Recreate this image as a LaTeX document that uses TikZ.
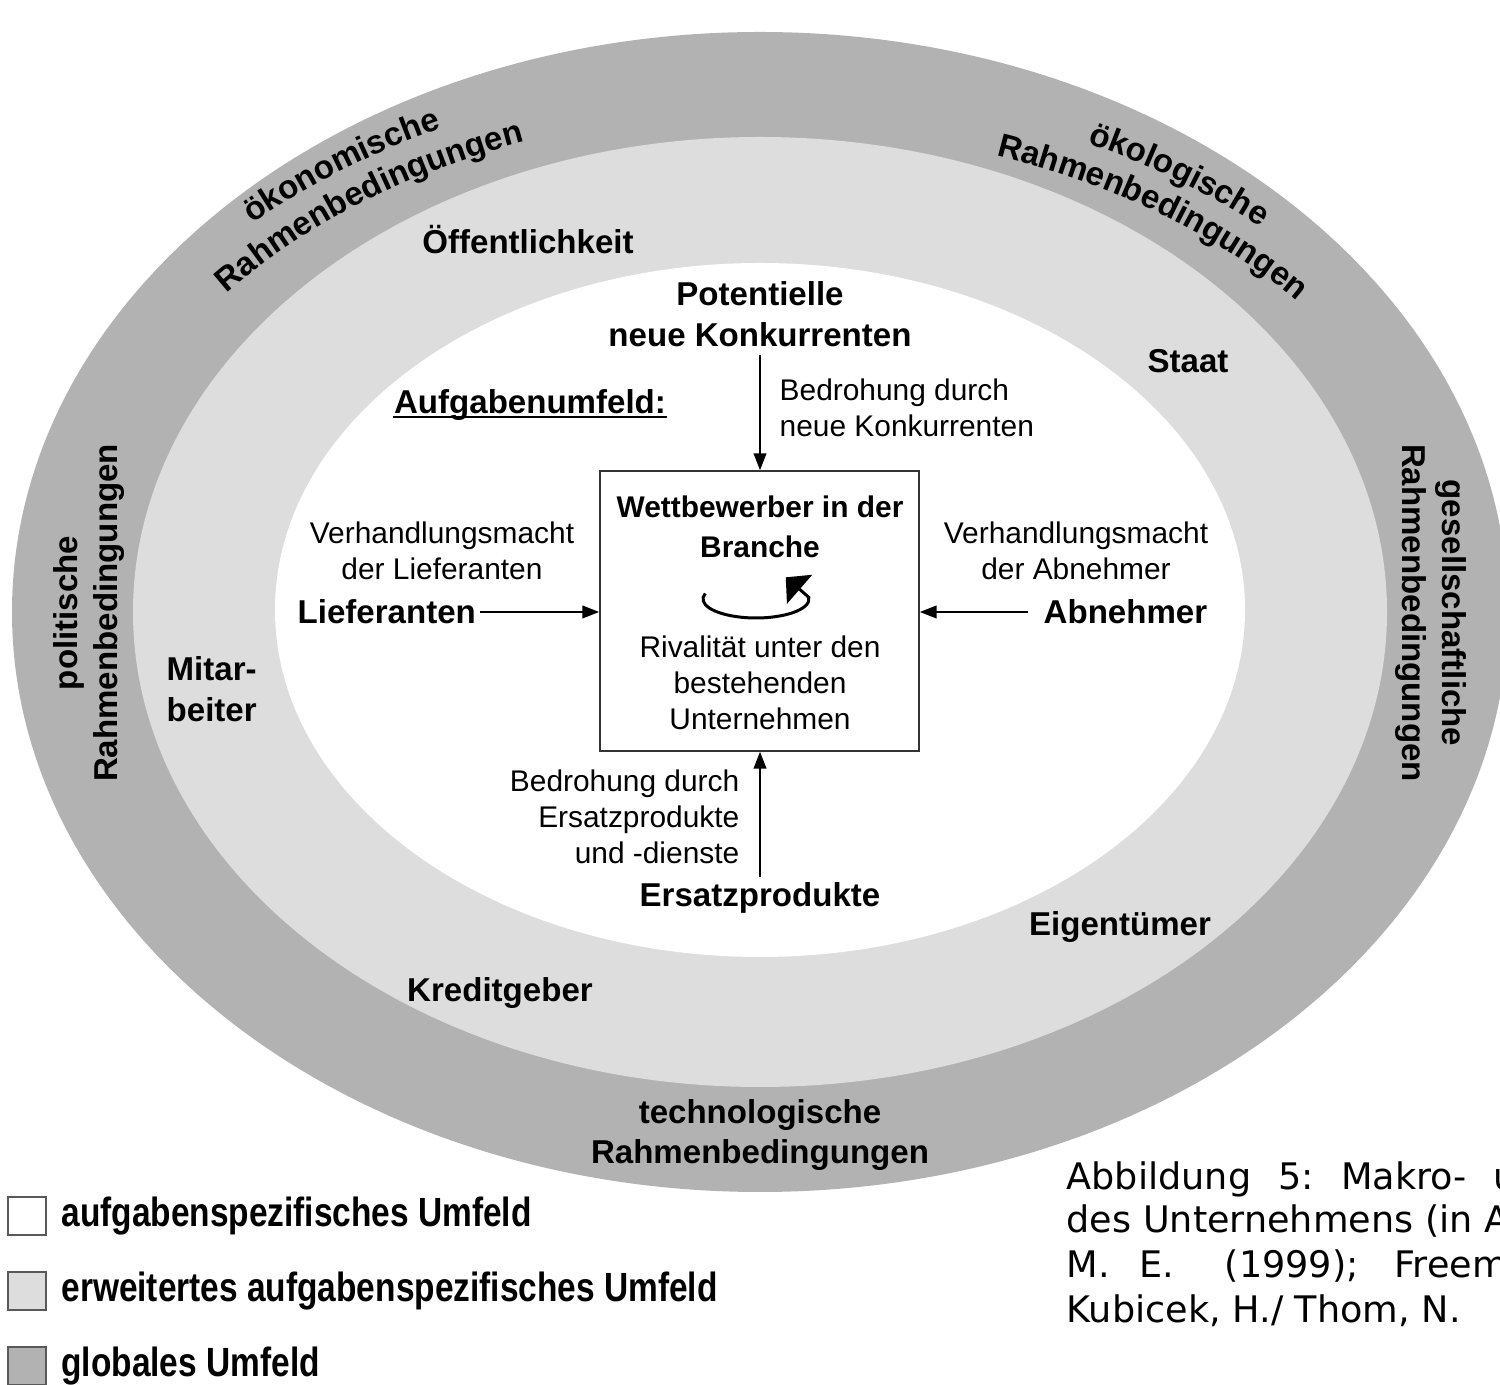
\documentclass[tikz,border=0pt]{standalone}
\usepackage{fontspec}
\setmainfont{Liberation Sans}
\newfontfamily\captionfont{DejaVu Sans}
\newfontface\narrowbold[FakeStretch=0.82]{Liberation Sans Bold}
\usetikzlibrary{positioning, arrows.meta, decorations.text}
\definecolor{ring_dark}{RGB}{178, 178, 178}
\definecolor{ring_light}{RGB}{221, 221, 221}
\newcommand{\labelfont}{\fontsize{9.4}{11.6}\selectfont\bfseries}
\newcommand{\notefont}{\fontsize{8.5}{10.24}\selectfont}
\tikzset {
  label/.style = {font=\labelfont, align=center, inner sep=0pt},
  note/.style = {font=\notefont, align=center, inner sep=0pt},
  box/.style = {draw=black!80, line width=0.4pt, fill=white, minimum width=3.19cm, minimum height=2.8cm, rectangle},
  line/.style = {-{Triangle[length=4.8pt, width=3.6pt]}, line width=0.55pt, color=black, shorten <=1pt},
  legbox/.style = {draw=black!65, line width=0.4pt, minimum size=0.38cm, inner sep=0pt},
  legtext/.style = {font=\narrowbold\fontsize{11.6}{13}\selectfont, anchor=west, inner sep=0pt},
  caption/.style = {font=\captionfont\fontsize{10.4}{12.7}\selectfont, anchor=base west, inner sep=0pt},
  arctext/.style = {decorate, decoration={text along path, text align=center, text={#1}}}
}

\begin{document}
\begin{tikzpicture}[x=0.01cm, y=0.01cm]
    \useasboundingbox (0,0) rectangle (1500,1385);
    \clip (0,0) rectangle (1500,1385);

    % rings
    \fill[ring_dark] (760,773) ellipse [x radius=748, y radius=580];
    \fill[ring_light] (760,773) ellipse [x radius=627, y radius=475];
    \fill[white] (760,775) ellipse [x radius=485, y radius=347];

    % globales Umfeld
    \path[arctext={|\labelfont|ökonomische}] (242.5,1154.6) arc [start angle=134.6, end angle=114.6, x radius=737, y radius=536];
    \path[arctext={|\labelfont|Rahmenbedingungen}] (226.8,1091.7) arc [start angle=140.4, end angle=109.9, x radius=692, y radius=500];
    \path[arctext={|\labelfont|ökologische}] (1072.7,1247.0) arc [start angle=65, end angle=46, x radius=740, y radius=523];
    \path[arctext={|\labelfont|Rahmenbedingungen}] (987.9,1231.6) arc [start angle=71, end angle=39, x radius=700, y radius=485];
    \node[label, rotate=90] (politisch) at (89,772) {politische\\Rahmenbedingungen};
    \node[label, rotate=-90] (gesellschaft) at (1431,772) {gesellschaftliche\\Rahmenbedingungen};
    \node[label] (technologie) at (760,250) {technologische\\Rahmenbedingungen};

    % erweitertes Umfeld
    \node[label] (oeffentlich) at (528,1145) {Öffentlichkeit};
    \node[label] (staat) at (1188,1024) {Staat};
    \node[label, anchor=west, align=left] (mitarbeiter) at (166,696) {Mitar-\\beiter};
    \node[label] (eigentuemer) at (1120,458) {Eigentümer};
    \node[label] (kredit) at (500,392) {Kreditgeber};

    % Aufgabenumfeld
    \node[label] (aufgaben) at (530,980) {Aufgabenumfeld:};
    \draw[line width=0.7pt] ([yshift=-1pt]aufgaben.base west) -- ([yshift=-1pt]aufgaben.base east);

    \node[box] (wettbewerb) at (759.5,774) {};
    \node[note, font=\fontsize{8.5}{11.4}\selectfont\bfseries] (branche) at (760,858) {Wettbewerber in der\\Branche};
    \node[note] (rivalitaet) at (760,702) {Rivalität unter den\\bestehenden\\Unternehmen};
    \draw[line width=0.85pt, -{Triangle[length=5.2pt, width=10.8pt]}] (756,786) ++(163:53 and 19)
        arc [start angle=163, end angle=365, x radius=53, y radius=19] -- ++(-23,20);

    \node[label] (konkurrenten) at (760,1071) {Potentielle\\neue Konkurrenten};
    \node[note, anchor=west, align=left] (bedrohung_neu) at (779,977) {Bedrohung durch\\neue Konkurrenten};
    \node[label, anchor=west] (lieferanten) at (297,773) {Lieferanten};
    \node[note] (macht_lief) at (442,834) {Verhandlungsmacht\\der Lieferanten};
    \node[label, anchor=west] (abnehmer) at (1043,773) {Abnehmer};
    \node[note] (macht_abn) at (1076,834) {Verhandlungsmacht\\der Abnehmer};
    \node[label] (ersatz) at (760,487) {Ersatzprodukte};
    \node[note, anchor=east, align=right] (bedrohung_ersatz) at (740,568) {Bedrohung durch\\Ersatzprodukte\\und -dienste};

    \draw[line, shorten <=2.3pt] (konkurrenten.south) -- (konkurrenten.south |- wettbewerb.north);
    \draw[line] (lieferanten.east) -- (lieferanten.east -| wettbewerb.west);
    \draw[line, shorten <=4.3pt] (abnehmer.west) -- (abnehmer.west -| wettbewerb.east);
    \draw[line, shorten <=1.5pt] (ersatz.north) -- (ersatz.north |- wettbewerb.south);

    % legend
    \node[legbox, fill=white] (leg1) at (27,169) {};
    \node[legbox, fill=ring_light] (leg2) at (27,94) {};
    \node[legbox, fill=ring_dark] (leg3) at (27,19) {};
    \node[legtext, right=0.14cm of leg1] (legtext1) {aufgabenspezifisches Umfeld};
    \node[legtext, right=0.14cm of leg2] (legtext2) {erweitertes aufgabenspezifisches Umfeld};
    \node[legtext, right=0.14cm of leg3] (legtext3) {globales Umfeld};

    % caption (cut at the right edge)
    \node[caption] (cap1) at (1066,195) {Abbildung\hspace{7.7pt}5:\hspace{7.7pt}Makro-\hspace{7.7pt}u};
    \node[caption] (cap2) at (1066,152) {des Unternehmens (in A};
    \node[caption] (cap3) at (1066,107) {M.\hspace{8.3pt}E.\hspace{14.5pt}(1999);\hspace{10.2pt}Freem};
    \node[caption] (cap4) at (1066,62) {Kubicek, H./ Thom, N.};

\end{tikzpicture}
\end{document}
